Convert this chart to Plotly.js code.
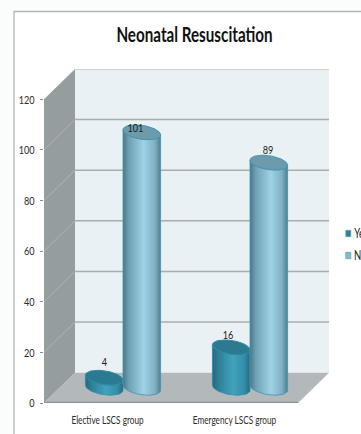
<!DOCTYPE html>
<html>
<head>
<meta charset="utf-8">
<script src="https://cdn.plot.ly/plotly-3.0.1.min.js"></script>
<style>html,body{margin:0;padding:0;background:#fbfdfd;overflow:hidden}#chart{width:361px;height:434px}</style>
</head>
<body>
<div id="chart"></div>
<script>
// Chart values
const chartTitle = 'Neonatal Resuscitation';
const categories = ['Elective LSCS group', 'Emergency LSCS group'];
const seriesNames = ['Yes', 'No'];
const yesValues = [4, 16];
const noValues = [101, 89];
const yTicks = [0, 20, 40, 60, 80, 100, 120];

// Pseudo-3D box: the back wall is the front plane shifted by this depth (data units)
const W = 361, H = 434;
const plot = {l: 44, r: 329, t: 69, b: 403};
const xMin = -0.5, xFront = 1.5, xMax = -0.5 + (plot.r - plot.l) / 127;
const yTop = 132;
const depthX = xMax - xFront, depthY = 12;
const yMaxTick = 120;

// Cylinder geometry in data units
const radiusX = 0.148, radiusY = 2.75, tilt = 1.0;
const yesGradient = [[0, '#226a7e'], [0.18, '#2f8199'], [0.55, '#41a3bf'], [0.85, '#358ca6'], [1, '#236b7f']];
const noGradient = [[0, '#4a7688'], [0.15, '#6f9fb2'], [0.55, '#9fd2e7'], [0.85, '#7fafc2'], [1, '#4f7d8e']];

const paperX = p => (p - plot.l) / (plot.r - plot.l);
const paperY = p => (plot.b - p) / (plot.b - plot.t);

// One point on a tilted ellipse around (cx, cy)
function rim(cx, cy, a) {
  return [cx + radiusX * Math.cos(a), cy + radiusY * Math.sin(a) - tilt * Math.cos(a)];
}
const steps = 40;

function bodyOutline(cx, value) {
  const base = depthY / 2, top = base + value;
  const xs = [], ys = [];
  // near side of the top rim, right to left
  for (let i = 0; i <= steps; i++) {
    const p = rim(cx, top, -Math.PI * i / steps);
    xs.push(p[0]); ys.push(p[1]);
  }
  // near side of the base rim, left to right
  for (let i = 0; i <= steps; i++) {
    const p = rim(cx, base, -Math.PI + Math.PI * i / steps);
    xs.push(p[0]); ys.push(p[1]);
  }
  xs.push(xs[0]); ys.push(ys[0]);
  return {xs, ys};
}
function capOutline(cx, value) {
  const top = depthY / 2 + value;
  const xs = [], ys = [];
  for (let i = 0; i <= steps * 2; i++) {
    const p = rim(cx, top, Math.PI * 2 * i / (steps * 2));
    xs.push(p[0]); ys.push(p[1]);
  }
  return {xs, ys};
}
function cylinder(cx, value, name, gradient, capColor, edge) {
  const b = bodyOutline(cx, value), c = capOutline(cx, value);
  return [
    {type: 'scatter', mode: 'lines', name, x: b.xs, y: b.ys, fill: 'toself',
     fillgradient: {type: 'horizontal', colorscale: gradient},
     line: {color: edge, width: 0.8}, showlegend: false, hoverinfo: 'skip'},
    {type: 'scatter', mode: 'lines', name, x: c.xs, y: c.ys, fill: 'toself',
     fillcolor: capColor, line: {color: edge, width: 1}, showlegend: false, hoverinfo: 'skip'}
  ];
}

const traces = [];
categories.forEach((c, i) => {
  const cx = i + depthX / 2;
  traces.push(...cylinder(cx - radiusX, yesValues[i], seriesNames[0], yesGradient, '#2c7a90', '#2f8ba5'));
});
categories.forEach((c, i) => {
  const cx = i + depthX / 2;
  traces.push(...cylinder(cx + radiusX, noValues[i], seriesNames[1], noGradient, '#6d9bac', '#3f97af'));
});

// Box walls, floor and gridlines
const shapes = [];
shapes.push({type: 'rect', xref: 'paper', yref: 'paper', layer: 'below',
  x0: paperX(14), x1: paperX(W + 40), y0: paperY(H + 40), y1: paperY(11.5),
  fillcolor: '#ffffff', line: {color: '#b3b3b3', width: 1.3}});
const poly = pts => 'M' + pts.map(p => p.join(',')).join('L') + 'Z';
shapes.push({type: 'path', layer: 'below', xref: 'x', yref: 'y', line: {width: 0}, fillcolor: '#e9f1f5',
  path: poly([[xMin + depthX, depthY], [xMax, depthY], [xMax, yMaxTick + depthY], [xMin + depthX, yMaxTick + depthY]])});
shapes.push({type: 'path', layer: 'below', xref: 'x', yref: 'y', line: {width: 0}, fillcolor: '#969d9e',
  path: poly([[xMin, 0], [xMin + depthX, depthY], [xMin + depthX, yMaxTick + depthY], [xMin, yMaxTick]])});
shapes.push({type: 'path', layer: 'below', xref: 'x', yref: 'y', line: {width: 0}, fillcolor: '#b3b8ba',
  path: poly([[xMin, 0], [xFront, 0], [xMax, depthY], [xMin + depthX, depthY]])});
yTicks.forEach(t => {
  if (t > 0) {
    shapes.push({type: 'line', layer: 'below', xref: 'x', yref: 'y',
      x0: xMin + depthX, x1: xMax, y0: t + depthY, y1: t + depthY,
      line: {color: t === yMaxTick ? '#c3c8ca' : '#a9adad', width: 1.5}});
  }
  if (t > 0 && t < yMaxTick) {
    shapes.push({type: 'line', layer: 'below', xref: 'x', yref: 'y',
      x0: xMin, x1: xMin + depthX, y0: t, y1: t + depthY,
      line: {color: '#b4b9b9', width: 0.8}});
  }
});
shapes.push({type: 'line', layer: 'below', xref: 'x', yref: 'y', x0: xMin, x1: xFront, y0: 0.2, y1: 0.2,
  line: {color: '#8f9496', width: 1.5}});

// Legend swatches; the legend runs off the right edge of the frame
const legendRows = [233.5, 255.5];
const legendColors = ['#2f8199', '#7fb9cf'];
legendRows.forEach((row, i) => {
  shapes.push({type: 'rect', xref: 'paper', yref: 'paper', layer: 'above',
    x0: paperX(345.8), x1: paperX(350.8), y0: paperY(row + 3.2), y1: paperY(row - 3.2),
    fillcolor: legendColors[i], line: {color: '#5f9fb2', width: 0.7}});
});

const font = 'Lato, "Liberation Sans", sans-serif';
const annotations = [];
const labelShift = [[[0, 16], [-6, 5]], [[-3, 12.5], [-1, 13]]];
categories.forEach((c, i) => {
  [yesValues[i], noValues[i]].forEach((v, s) => {
    const cx = i + depthX / 2 + (s === 0 ? -radiusX : radiusX);
    annotations.push({x: cx, y: v + depthY / 2, xref: 'x', yref: 'y', text: String(v), showarrow: false,
      xshift: labelShift[i][s][0], yshift: labelShift[i][s][1],
      font: {family: font, size: 12, color: '#1d1d1d'}});
  });
});
legendRows.forEach((row, i) => {
  annotations.push({x: paperX(349.5), y: paperY(row), xref: 'paper', yref: 'paper', xanchor: 'left', yanchor: 'middle',
    text: seriesNames[i], showarrow: false, font: {family: font, size: 12.5, color: '#222222'}});
});

Plotly.newPlot('chart', traces, {
  width: W, height: H,
  paper_bgcolor: '#fbfdfd', plot_bgcolor: 'rgba(0,0,0,0)',
  showlegend: false,
  margin: {l: plot.l, r: W - plot.r, t: plot.t, b: H - plot.b, pad: 0, autoexpand: false},
  title: {text: '<b>' + chartTitle + '</b>', x: 194.5 / W, xref: 'container', xanchor: 'center',
    y: 1 - 35 / H, yref: 'container', yanchor: 'middle',
    font: {family: font, size: 20, color: '#111111'}},
  xaxis: {range: [xMin, xMax], tickmode: 'array', tickvals: categories.map((c, i) => i), ticktext: categories,
    ticks: '', showgrid: false, zeroline: false, showline: false, fixedrange: true, ticklabelstandoff: 9,
    tickfont: {family: font, size: 10.8, color: '#2b2b2b'}},
  yaxis: {range: [0, yTop], tickmode: 'array', tickvals: yTicks, ticktext: yTicks.map(String),
    ticks: 'outside', ticklen: 3, tickwidth: 1, tickcolor: '#8a8a8a', showgrid: false, zeroline: false, showline: false,
    fixedrange: true, ticklabelstandoff: 3,
    tickfont: {family: font, size: 12, color: '#2b2b2b'}},
  shapes, annotations
}, {displayModeBar: false, staticPlot: true}).then(gd => {
  // Narrow all lettering to a condensed set width
  const condense = 0.76;
  gd.querySelectorAll('svg text').forEach(t => {
    const len = t.getComputedTextLength();
    if (len > 0) {
      t.setAttribute('textLength', (len * condense).toFixed(2));
      t.setAttribute('lengthAdjust', 'spacingAndGlyphs');
    }
  });
});
</script>
</body>
</html>
